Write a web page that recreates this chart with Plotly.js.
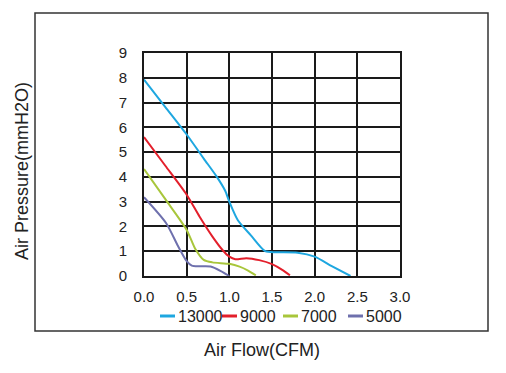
<!DOCTYPE html>
<html><head><meta charset="utf-8">
<script src="https://cdn.plot.ly/plotly-3.0.1.min.js"></script>
<style>html,body{margin:0;padding:0;background:#fff}#chart{width:506px;height:373px}</style>
</head><body><div id="chart"></div>
<script>
var seriesNames = ['13000', '9000', '7000', '5000'];
var seriesColors = ['#1ea7e0', '#e31f2b', '#a8c63b', '#6e70ad'];
var flow13000 = [0, 0.25, 0.5, 0.7, 0.85, 0.95, 1.0, 1.1, 1.25, 1.42, 1.55, 1.8, 2.0, 2.2, 2.42];
var pres13000 = [7.93, 6.82, 5.71, 4.74, 4.02, 3.45, 3.0, 2.25, 1.65, 1.0, 0.96, 0.94, 0.78, 0.4, 0];
var flow9000 = [0, 0.25, 0.5, 0.65, 0.8, 0.92, 1.0, 1.07, 1.2, 1.35, 1.5, 1.62, 1.71];
var pres9000 = [5.61, 4.45, 3.28, 2.4, 1.6, 1.05, 0.78, 0.68, 0.72, 0.64, 0.48, 0.25, 0.03];
var flow7000 = [0, 0.25, 0.5, 0.6, 0.7, 0.8, 1.0, 1.12, 1.22, 1.31];
var pres7000 = [4.32, 3.1, 1.86, 1.1, 0.65, 0.55, 0.49, 0.38, 0.22, 0.03];
var flow5000 = [0, 0.26, 0.4, 0.5, 0.56, 0.65, 0.78, 0.9, 1.0];
var pres5000 = [3.18, 2.13, 1.2, 0.6, 0.42, 0.39, 0.38, 0.2, 0.0];
var xTickVals = [0, 0.5, 1.0, 1.5, 2.0, 2.5, 3.0];
var yTickVals = [0, 1, 2, 3, 4, 5, 6, 7, 8, 9];
var xTitle = 'Air Flow(CFM)';
var yTitle = 'Air Pressure(mmH2O)';

var flows = [flow13000, flow9000, flow7000, flow5000];
var pressures = [pres13000, pres9000, pres7000, pres5000];

var W = 506, H = 373, L = 144, R = 400, T = 53, B = 276;
function px(x){ return (x - L) / (R - L); }
function py(y){ return (B - y) / (B - T); }

var traces = seriesNames.map(function(n, i){
  return {x: flows[i], y: pressures[i], type: 'scatter', mode: 'lines', name: n,
    line: {color: seriesColors[i], width: 2, shape: 'spline', smoothing: 0.7},
    showlegend: false, hoverinfo: 'skip'};
});

var fam = 'Liberation Sans, Arial, sans-serif';
var font = {family: fam, size: 15, color: '#222'};
var legendLineX = [160, 222, 283, 348];
var legendY = 316;
var shapes = [{type: 'rect', xref: 'paper', yref: 'paper', x0: px(35), x1: px(488), y0: py(331), y1: py(13),
  line: {color: '#333', width: 1.5}, fillcolor: 'rgba(0,0,0,0)', layer: 'below'}];
var annotations = [
  {xref: 'paper', yref: 'paper', x: px(262), y: py(350), text: xTitle, showarrow: false,
   xanchor: 'center', yanchor: 'middle', font: {family: fam, size: 18, color: '#222'}},
  {xref: 'paper', yref: 'paper', x: px(22), y: py(171), text: yTitle, showarrow: false, textangle: -90,
   xanchor: 'center', yanchor: 'middle', font: {family: fam, size: 18, color: '#222'}}
];
seriesNames.forEach(function(n, i){
  shapes.push({type: 'line', xref: 'paper', yref: 'paper', x0: px(legendLineX[i]), x1: px(legendLineX[i] + 15),
    y0: py(legendY), y1: py(legendY), line: {color: seriesColors[i], width: 3}});
  annotations.push({xref: 'paper', yref: 'paper', x: px(legendLineX[i] + 16), y: py(legendY), text: n,
    showarrow: false, xanchor: 'left', yanchor: 'middle', font: {family: fam, size: 16, color: '#222'}});
});

var layout = {
  width: W, height: H,
  margin: {l: L, r: W - R, t: T, b: H - B, pad: 0},
  paper_bgcolor: '#fff', plot_bgcolor: '#fff',
  font: font,
  showlegend: false,
  xaxis: {range: [0, 3], tickvals: xTickVals, ticktext: xTickVals.map(function(v){return v.toFixed(1);}),
    showgrid: true, gridcolor: '#1a1a1a', gridwidth: 2, zeroline: false,
    showline: true, linecolor: '#1a1a1a', linewidth: 2, mirror: true,
    ticks: '', ticklabelstandoff: 6, fixedrange: true},
  yaxis: {range: [0, 9], tickvals: yTickVals,
    showgrid: true, gridcolor: '#1a1a1a', gridwidth: 2, zeroline: false,
    showline: true, linecolor: '#1a1a1a', linewidth: 2, mirror: true,
    ticks: '', ticklabelstandoff: 12, fixedrange: true},
  shapes: shapes,
  annotations: annotations
};
Plotly.newPlot('chart', traces, layout, {displayModeBar: false, staticPlot: true});
</script></body></html>
